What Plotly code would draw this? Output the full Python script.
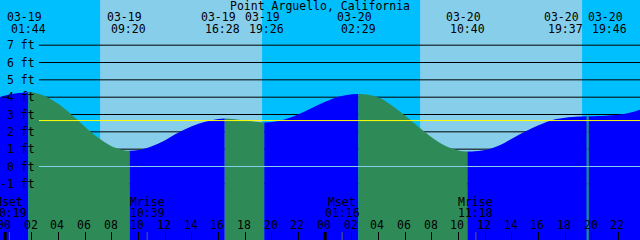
import plotly.graph_objects as go

# ---------------- data ----------------
# hourly tide heights (ft), hours counted from 03-19 00:00
hours = list(range(-1, 49))
heights = [3.86, 4.09, 4.24, 4.28, 4.06, 3.60, 2.97, 2.28, 1.64, 1.16,
           0.93, 0.95, 1.17, 1.52, 1.96, 2.32, 2.58, 2.74, 2.74, 2.66,
           2.57, 2.57, 2.73, 3.02, 3.38, 3.73, 4.02, 4.17, 4.17, 3.98,
           3.52, 2.93, 2.28, 1.68, 1.20, 0.93, 0.87, 0.95, 1.20, 1.60,
           2.02, 2.38, 2.67, 2.81, 2.88, 2.90, 2.93, 2.98, 3.13, 3.38]

# tide extremes
event_dates = ["03-19", "03-19", "03-19", "03-19", "03-20", "03-20", "03-20", "03-20"]
event_times = ["01:44", "09:20", "16:28", "19:26", "02:29", "10:40", "19:37", "19:46"]
event_heights = [4.29, 0.91, 2.77, 2.54, 4.19, 0.86, 2.90, 2.895]
event_types = ["H", "L", "H", "L", "H", "L", "H", "L"]

# moon events
moon_names = ["Mset", "Mrise", "Mset", "Mrise"]
moon_dates = ["03-19", "03-19", "03-20", "03-20"]
moon_times = ["00:19", "10:39", "01:16", "11:18"]

# sun
sunrise = [("03-19", "07:07"), ("03-20", "07:07")]
sunset = [("03-19", "19:16"), ("03-20", "19:16")]

grid_levels = [-1, 1, 2, 3, 4, 5, 6, 7]
label_levels = [-1, 0, 1, 2, 3, 4, 5, 6, 7]
datum_level = 0.0
mean_level = 2.65
title = "Point Arguello, California"

# ---------------- helpers ----------------
def to_h(date, t):
    day = int(date.split("-")[1]) - 19
    hh, mm = t.split(":")
    return 24 * day + int(hh) + int(mm) / 60.0

W, H = 640, 240
X0, X1 = -0.39, 47.61          # hours at the left / right edge
Y0, Y1 = -4.241, 9.607         # ft at the bottom / top edge
FONT = dict(family="DejaVu Sans Mono", size=11.5, color="black")
NIGHT, DAY = "#00BFFF", "#87CEEB"
FLOOD, EBB = "#0000FF", "#2E8B57"

def py(p):  # pixel row -> paper y
    return 1 - p / H

def px(p):  # pixel col -> paper x
    return p / W

ev_h = [to_h(d, t) for d, t in zip(event_dates, event_times)]

pts = sorted(list(zip(hours, heights)) + list(zip(ev_h, event_heights)))
bounds = [hours[0]] + ev_h + [hours[-1]]
seg_types = ["L"] + event_types  # type of event at the start of each segment

fig = go.Figure()
for i in range(len(bounds) - 1):
    a, b = bounds[i], bounds[i + 1]
    seg = [(x, y) for x, y in pts if a - 1e-9 <= x <= b + 1e-9]
    color = EBB if seg_types[i] == "H" else FLOOD
    fig.add_trace(go.Scatter(x=[a, b], y=[Y0 - 1, Y0 - 1], mode="lines",
                             line=dict(width=0), hoverinfo="skip"))
    fig.add_trace(go.Scatter(x=[p[0] for p in seg], y=[p[1] for p in seg],
                             mode="lines", line=dict(width=0, shape="spline"),
                             fill="tonexty", fillcolor=color, hoverinfo="skip"))

shapes = []
# daylight
for (d1, t1), (d2, t2) in zip(sunrise, sunset):
    shapes.append(dict(type="rect", xref="x", yref="paper", x0=to_h(d1, t1), x1=to_h(d2, t2),
                       y0=0, y1=1, fillcolor=DAY, line=dict(width=0), layer="below"))
# grid lines (behind tide)
for g in grid_levels:
    shapes.append(dict(type="line", xref="paper", yref="y", x0=px(39), x1=1, y0=g, y1=g,
                       line=dict(color="black", width=1), layer="below"))
# datum and mean lines (above tide)
shapes.append(dict(type="line", xref="paper", yref="y", x0=px(39), x1=1, y0=datum_level, y1=datum_level,
                   line=dict(color=DAY, width=1), layer="above"))
shapes.append(dict(type="line", xref="paper", yref="y", x0=px(39), x1=1, y0=mean_level, y1=mean_level,
                   line=dict(color="#FFFF00", width=1), layer="above"))
shapes.append(dict(type="line", xref="paper", yref="y", x0=px(2), x1=px(9), y0=4, y1=4,
                   line=dict(color="black", width=1), layer="above"))
# midnight ticks
for d in [0, 24, 48]:
    shapes.append(dict(type="line", xref="x", yref="paper", x0=d, x1=d, y0=0, y1=py(232),
                       line=dict(color="black", width=3), layer="above"))
# moon ticks
for d, t in zip(moon_dates, moon_times):
    h = to_h(d, t)
    shapes.append(dict(type="line", xref="x", yref="paper", x0=h, x1=h, y0=0, y1=py(232),
                       line=dict(color="#606060", width=1), layer="above"))

ann = []
ann.append(dict(text=title, x=px(319.5), y=py(5.5), xref="paper", yref="paper",
                showarrow=False, font=FONT, xanchor="center", yanchor="middle"))
label_shift = [-0.3, -1.3, -2.4, 2.4, -0.3, -0.2, -21.6, 20.5]
for h, d, t, s in zip(ev_h, event_dates, event_times, label_shift):
    ann.append(dict(text=d, x=h, xshift=s - 4, y=py(17), xref="x", yref="paper",
                    showarrow=False, font=FONT, xanchor="center", yanchor="middle"))
    ann.append(dict(text=t, x=h, xshift=s, y=py(29), xref="x", yref="paper",
                    showarrow=False, font=FONT, xanchor="center", yanchor="middle"))
for n, d, t in zip(moon_names, moon_dates, moon_times):
    h = to_h(d, t)
    ann.append(dict(text=n, x=h, y=py(202), xref="x", yref="paper",
                    showarrow=False, font=FONT, xanchor="center", yanchor="middle"))
    ann.append(dict(text=t, x=h, y=py(213.3), xref="x", yref="paper",
                    showarrow=False, font=FONT, xanchor="center", yanchor="middle"))
tick_hours = list(range(0, 49, 2))
for h in tick_hours:
    ann.append(dict(text="%02d" % (h % 24), x=h, xshift=-1.3, y=py(225.3), xref="x", yref="paper",
                    showarrow=False, font=FONT, xanchor="center", yanchor="middle"))
for lv in label_levels:
    ann.append(dict(text="%d ft" % lv, x=px(36.5), y=lv, xref="paper", yref="y",
                    showarrow=False, font=FONT, xanchor="right", yanchor="middle"))

fig.update_layout(
    width=W, height=H, margin=dict(l=0, r=0, t=0, b=0, pad=0),
    plot_bgcolor=NIGHT, paper_bgcolor=NIGHT, showlegend=False,
    xaxis=dict(range=[X0, X1], showgrid=False, zeroline=False, showline=False,
               ticks="inside", ticklen=8, tickwidth=1, tickcolor="black",
               tickvals=tick_hours, showticklabels=False, fixedrange=True),
    yaxis=dict(range=[Y0, Y1], showgrid=False, zeroline=False, showline=False,
               showticklabels=False, ticks="", fixedrange=True),
    shapes=shapes, annotations=ann,
)
fig.write_html("out.html", config={"displayModeBar": False})
